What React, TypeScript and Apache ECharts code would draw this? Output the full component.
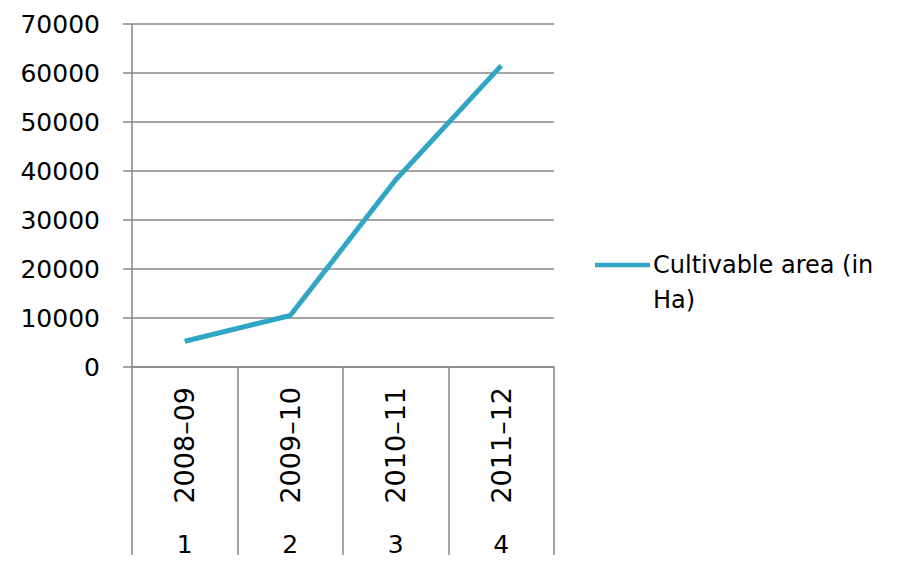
import React, { useEffect, useRef } from "react";
import * as echarts from "echarts";

const periods = ["2008–09", "2009–10", "2010–11", "2011–12"];
const indexLabels = ["1", "2", "3", "4"];
const cultivableArea = [5250, 10500, 38200, 61500];
const seriesName = "Cultivable area (in Ha)";
const legendText = "Cultivable area (in\nHa)";

const GRID = "#878787";
const LINE = "#31A6C4";
const FONT = "DejaVu Sans";

export default function App() {
  const ref = useRef<HTMLDivElement>(null);
  useEffect(() => {
    const chart = echarts.init(ref.current!, null, { renderer: "svg" });
    chart.setOption({
      animation: false,
      textStyle: { fontFamily: FONT, color: "#000" },
      grid: { left: 132, right: 344, top: 24, bottom: 196, containLabel: false },
      legend: { show: false, data: [seriesName] },
      graphic: [
        {
          type: "line",
          shape: { x1: 595, y1: 265, x2: 650, y2: 265 },
          style: { stroke: LINE, lineWidth: 4.5 },
        },
        {
          type: "text",
          x: 653,
          y: 247,
          style: {
            text: legendText,
            fontFamily: FONT,
            fontSize: 24,
            lineHeight: 35,
            fill: "#000",
            textVerticalAlign: "top",
          },
        },
      ],
      xAxis: [
        {
          type: "category",
          data: periods,
          position: "bottom",
          axisLine: { show: true, lineStyle: { color: GRID, width: 1.5 } },
          axisTick: { show: true, length: 200, lineStyle: { color: GRID, width: 1.5 } },
          axisLabel: {
            rotate: 90,
            margin: 20,
            fontFamily: FONT,
            fontSize: 27,
            color: "#000",
            interval: 0,
          },
        },
        {
          type: "category",
          data: indexLabels,
          position: "bottom",
          offset: 157,
          axisLine: { show: false },
          axisTick: { show: false },
          axisLabel: {
            margin: 8,
            fontFamily: FONT,
            fontSize: 25,
            color: "#000",
            interval: 0,
          },
        },
      ],
      yAxis: {
        type: "value",
        min: 0,
        max: 70000,
        interval: 10000,
        axisLine: { show: true, lineStyle: { color: GRID, width: 1.5 } },
        axisTick: { show: true, length: 9, lineStyle: { color: GRID, width: 1.5 } },
        splitLine: { show: true, lineStyle: { color: GRID, width: 1.5 } },
        axisLabel: {
          margin: 32,
          fontFamily: FONT,
          fontSize: 25,
          color: "#000",
          formatter: (v: number) => String(v),
        },
      },
      series: [
        {
          name: seriesName,
          type: "line",
          data: cultivableArea,
          showSymbol: false,
          symbol: "none",
          lineStyle: { color: LINE, width: 5 },
          itemStyle: { color: LINE },
        },
      ],
    });
    return () => chart.dispose();
  }, []);
  return <div ref={ref} style={{ width: 898, height: 563, margin: -8 }} />;
}
